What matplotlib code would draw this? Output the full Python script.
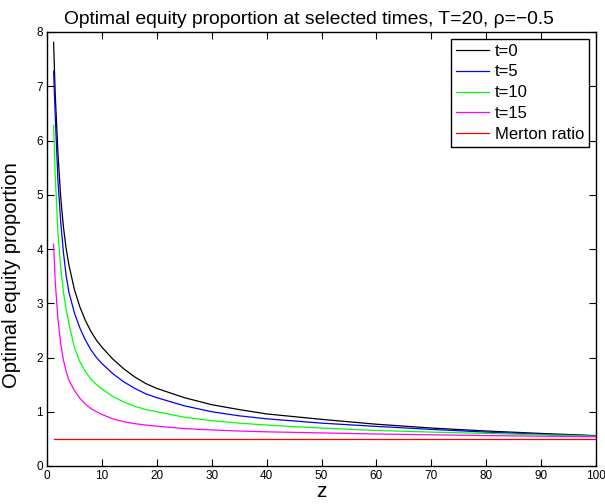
import matplotlib
matplotlib.use("Agg")
import matplotlib.pyplot as plt

plt.rcParams['font.family'] = ['Liberation Sans', 'DejaVu Sans']

z = [1.2, 1.5, 2.0, 2.5, 3.0, 3.5, 4.0, 5.0, 6.0, 7.0, 8.0, 9.0, 10, 12, 14, 16, 18, 20,
     25, 30, 35, 40, 45, 50, 60, 70, 80, 90, 100]

v_t0 = [7.81, 6.85, 5.75, 4.95, 4.4, 4.0, 3.7, 3.25, 2.93, 2.68, 2.48, 2.32, 2.19, 1.97,
        1.79, 1.64, 1.52, 1.43, 1.26, 1.13, 1.04, 0.96, 0.91, 0.86, 0.77, 0.70, 0.645,
        0.60, 0.56]

v_t5 = [7.28, 6.45, 5.25, 4.5, 3.93, 3.5, 3.2, 2.82, 2.54, 2.32, 2.14, 2.0, 1.89, 1.70,
        1.55, 1.43, 1.33, 1.26, 1.11, 1.0, 0.925, 0.87, 0.83, 0.79, 0.73, 0.675, 0.625,
        0.585, 0.555]

v_t10 = [6.28, 5.35, 4.3, 3.65, 3.2, 2.88, 2.62, 2.18, 1.92, 1.74, 1.60, 1.50, 1.42, 1.28,
         1.18, 1.10, 1.04, 1.0, 0.90, 0.835, 0.79, 0.755, 0.725, 0.70, 0.655, 0.625, 0.60,
         0.575, 0.55]

v_t15 = [4.09, 3.4, 2.7, 2.25, 1.95, 1.74, 1.58, 1.39, 1.25, 1.14, 1.06, 1.0, 0.95, 0.87,
         0.815, 0.78, 0.755, 0.735, 0.69, 0.665, 0.645, 0.63, 0.62, 0.61, 0.59, 0.575,
         0.56, 0.55, 0.54]

z_merton = [1.2, 100]
v_merton = [0.5, 0.5]

x_ticks = list(range(0, 101, 10))
y_ticks = list(range(0, 9))

fig = plt.figure(figsize=(6.05, 5.04), dpi=100)
ax = fig.add_axes([47/605, 38/504, 549/605, 434/504])

lw = 0.9
ax.plot(z, v_t0, color='k', lw=lw, label='t=0')
ax.plot(z, v_t5, color=(0, 0, 1), lw=lw, label='t=5')
ax.plot(z, v_t10, color=(0, 1, 0), lw=lw, label='t=10')
ax.plot(z, v_t15, color=(1, 0, 1), lw=lw, label='t=15')
ax.plot(z_merton, v_merton, color=(1, 0, 0), lw=lw, label='Merton ratio')

ax.set_xlim(0, 100)
ax.set_ylim(0, 8)
ax.set_xticks(x_ticks)
ax.set_yticks(y_ticks)
ax.tick_params(direction='in', top=True, right=True, length=5, width=0.8,
               labelsize=8.5, pad=3)
for s in ax.spines.values():
    s.set_linewidth(1.0)

ax.set_title('Optimal equity proportion at selected times, T=20, \u03c1=\u22120.5',
             fontsize=13.9, pad=6, x=0.477)
ax.set_xlabel('z', fontsize=15, labelpad=0)
ax.set_ylabel('Optimal equity proportion', fontsize=14.5, labelpad=4)
ax.yaxis.set_label_coords(-0.047, 0.44)

leg = ax.legend(loc='upper right', fontsize=12, fancybox=False, shadow=False,
                edgecolor='black', framealpha=1, borderaxespad=0.4,
                handlelength=2.0, handletextpad=0.35, labelspacing=0.35,
                borderpad=0.3)
leg.get_frame().set_linewidth(1.0)

fig.savefig('out.png', dpi=100)
